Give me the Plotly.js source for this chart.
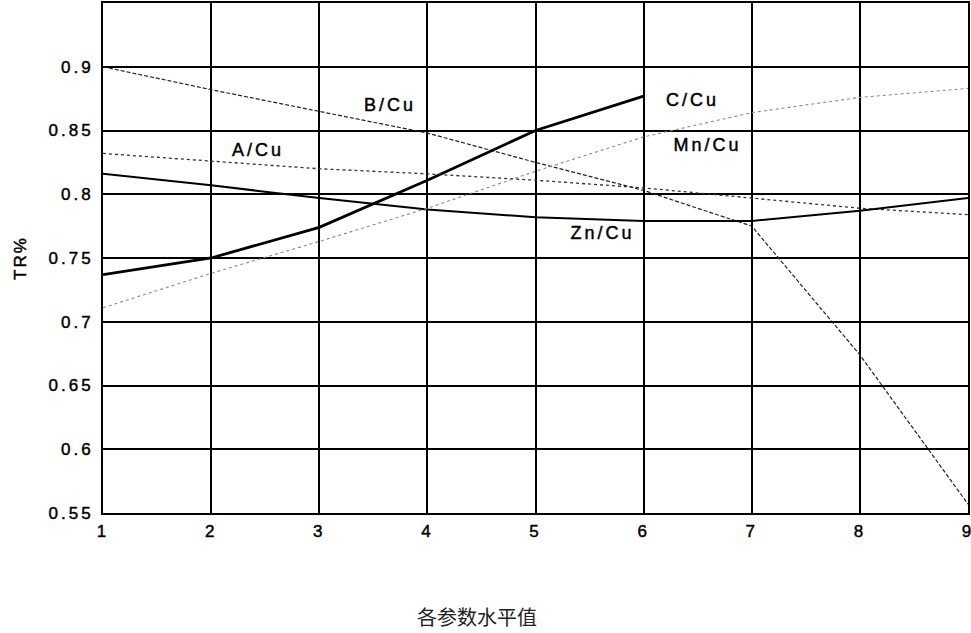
<!DOCTYPE html>
<html>
<head>
<meta charset="utf-8">
<script src="https://cdn.plot.ly/plotly-3.0.1.min.js"></script>
<style>
html,body{margin:0;padding:0;background:#fff;}
#chart{width:971px;height:633px;}
#chart .xtick text, #chart .ytick text{letter-spacing:3px; stroke:#000; stroke-width:0.45px;}
#chart .annotation-text{letter-spacing:3px; stroke:#000; stroke-width:0.45px;}
#chart .annotation[data-index="5"] .annotation-text{letter-spacing:0; stroke:none;}
#chart .ytitle{letter-spacing:2px; stroke:#000; stroke-width:0.45px;}
</style>
</head>
<body>
<div id="chart"></div>
<script>
const levels = [1, 2, 3, 4, 5, 6, 7, 8, 9];
const levelsC = [1, 2, 3, 4, 5, 6];
const bCu  = [0.900, 0.882, 0.865, 0.848, 0.825, 0.803, 0.775, 0.674, 0.557];
const cCu  = [0.737, 0.750, 0.774, 0.811, 0.850, 0.877];
const aCu  = [0.832, 0.826, 0.820, 0.816, 0.811, 0.805, 0.797, 0.789, 0.784];
const znCu = [0.816, 0.807, 0.797, 0.788, 0.782, 0.779, 0.779, 0.787, 0.797];
const mnCu = [0.711, 0.738, 0.763, 0.789, 0.818, 0.845, 0.864, 0.876, 0.883];
const yTicks = [0.55, 0.6, 0.65, 0.7, 0.75, 0.8, 0.85, 0.9];
const yTickText = ['0.55', '0.6', '0.65', '0.7', '0.75', '0.8', '0.85', '0.9'];
const xTitle = '各参数水平值';
const yTitle = 'TR%';

const traces = [
  {x: levels, y: bCu, name: 'B/Cu', mode: 'lines', line: {color: '#222', width: 1.2, dash: '4px,2px'}},
  {x: levelsC, y: cCu, name: 'C/Cu', mode: 'lines', line: {color: '#000', width: 2.8}},
  {x: levels, y: aCu, name: 'A/Cu', mode: 'lines', line: {color: '#333', width: 1.3, dash: 'dot'}},
  {x: levels, y: znCu, name: 'Zn/Cu', mode: 'lines', line: {color: '#000', width: 2}},
  {x: levels, y: mnCu, name: 'Mn/Cu', mode: 'lines', line: {color: '#888', width: 1.1, dash: 'dot'}}
];

const lblFont = {family: 'Arial, Liberation Sans, sans-serif', size: 18, color: '#000'};
const tickFont = {family: 'Arial, Liberation Sans, sans-serif', size: 17, color: '#000'};
const layout = {
  width: 971, height: 633,
  margin: {l: 103, r: 3, t: 3, b: 120},
  paper_bgcolor: '#fff', plot_bgcolor: '#fff',
  showlegend: false,
  xaxis: {
    range: [1, 9], tickvals: levels, ticktext: levels.map(String),
    showgrid: true, gridcolor: '#000', gridwidth: 2,
    showline: true, linecolor: '#000', linewidth: 2, mirror: true,
    zeroline: false, ticks: '', ticklen: 0, ticklabeloverflow: 'allow',
    ticklabelstandoff: 2,
    tickfont: tickFont
  },
  yaxis: {
    range: [0.55, 0.95], tickvals: yTicks, ticktext: yTickText,
    showgrid: true, gridcolor: '#000', gridwidth: 2,
    showline: true, linecolor: '#000', linewidth: 2, mirror: true,
    zeroline: false, ticks: '', ticklen: 0, ticklabelstandoff: 4,
    tickfont: tickFont,
    title: {text: yTitle, standoff: 30,
      font: {family: 'Arial, Liberation Sans, sans-serif', size: 17, color: '#000'}}
  },
  annotations: [
    {x: 3.65, y: 0.870, text: 'B/Cu', showarrow: false, font: lblFont},
    {x: 2.43, y: 0.835, text: 'A/Cu', showarrow: false, font: lblFont},
    {x: 6.45, y: 0.874, text: 'C/Cu', showarrow: false, font: lblFont},
    {x: 6.59, y: 0.839, text: 'Mn/Cu', showarrow: false, font: lblFont},
    {x: 5.62, y: 0.770, text: 'Zn/Cu', showarrow: false, font: lblFont},
    {xref: 'paper', yref: 'paper', x: 0.432, y: 0, yshift: -103, yanchor: 'middle',
     text: xTitle, showarrow: false,
     font: {family: 'Noto Sans CJK SC, sans-serif', size: 20, color: '#222'}}
  ]
};

Plotly.newPlot('chart', traces, layout, {displayModeBar: false, staticPlot: true});
</script>
</body>
</html>
